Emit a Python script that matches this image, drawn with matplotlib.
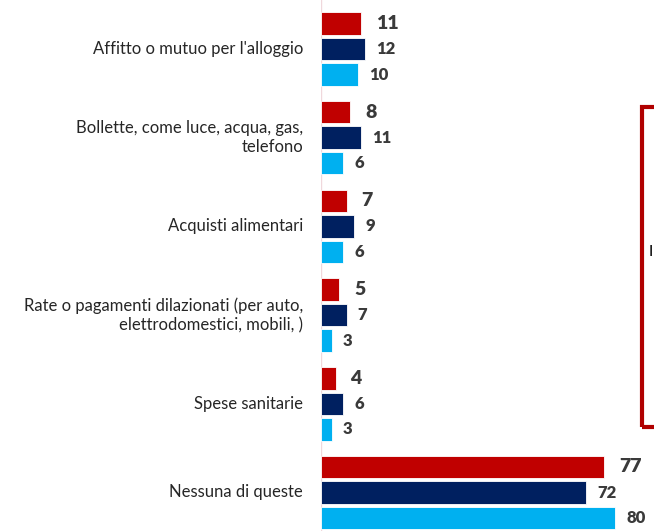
import matplotlib.pyplot as plt
from matplotlib.patches import Rectangle

plt.rcParams["font.family"] = ["Lato", "DejaVu Sans"]

categories = [
    "Affitto o mutuo per l'alloggio",
    "Bollette, come luce, acqua, gas,\ntelefono",
    "Acquisti alimentari",
    "Rate o pagamenti dilazionati (per auto,\nelettrodomestici, mobili, )",
    "Spese sanitarie",
    "Nessuna di queste",
]
serie_rossa = [11, 8, 7, 5, 4, 77]
serie_blu = [12, 11, 9, 7, 6, 72]
serie_azzurra = [10, 6, 6, 3, 3, 80]

ROSSO, BLU, AZZURRO = "#C00000", "#002060", "#00B0F0"
W, H = 654, 531
x0 = 321          # left edge of the bars, px
scale = 3.68      # px per percentage point

fig = plt.figure(figsize=(W / 100, H / 100), dpi=100)
ax = fig.add_axes([x0 / W, 0, 1 - x0 / W, 1])
ax.set_xlim(0, (W - x0) / scale)
ax.set_ylim(H, 0)
ax.axis("off")

pitch, step, bh = 88.7, 25.5, 22.5
for i, cat in enumerate(categories):
    yc = 49 + i * pitch
    for j, (vals, col) in enumerate([(serie_rossa, ROSSO), (serie_blu, BLU),
                                     (serie_azzurra, AZZURRO)]):
        y = yc + (j - 1) * step
        v = vals[i]
        ax.barh(y, v, height=bh, color=col, edgecolor="white", linewidth=0.6)
        fs, dx = (14, 4.0) if j == 0 else (12, 3.0)
        ax.text(v + dx, y, str(v), va="center", ha="left", fontsize=fs,
                fontweight="heavy", color="#3a3a3a")
    fig.text(303 / W, 1 - yc / H, cat, ha="right", va="center", fontsize=12,
             color="#262626", linespacing=1.25)

# faint baseline
ax.axvline(0, color="#f0d8dc", lw=1, zorder=0)

# edge of the neighbouring boxed panel
fig.patches.append(Rectangle((642 / W, 1 - 427 / H), 30 / W, 320 / H,
                             transform=fig.transFigure, fill=False,
                             edgecolor="#B00000", linewidth=3))
fig.text(649 / W, 1 - 252 / H, "I", fontsize=11, color="black",
         ha="left", va="center")

fig.savefig("out.png", dpi=100)
